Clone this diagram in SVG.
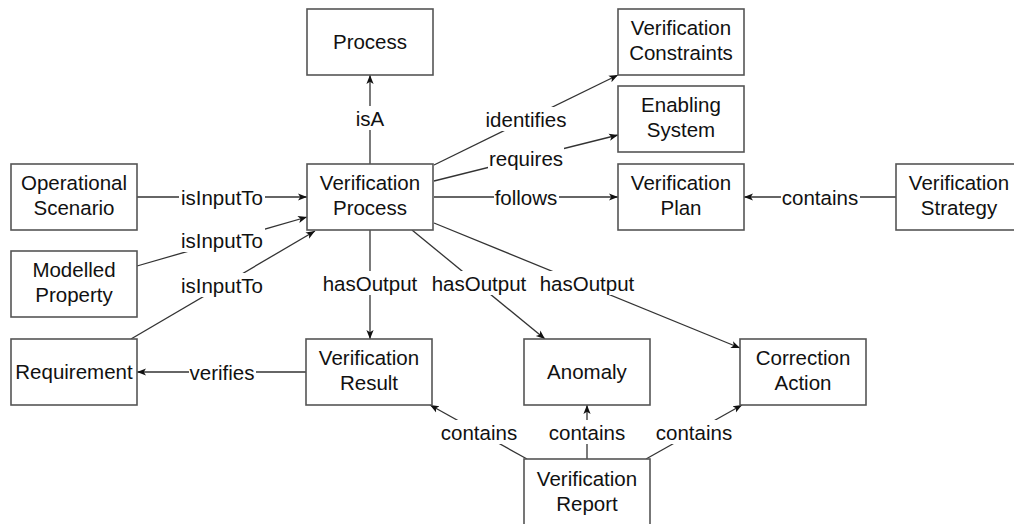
<svg xmlns="http://www.w3.org/2000/svg" width="1014" height="524" viewBox="0 0 1014 524">
<style>
.box{fill:#fff;stroke:#555;stroke-width:1.6}
.t{font-family:"Liberation Sans",Arial,sans-serif;font-size:20.5px;fill:#111;text-anchor:middle}
.e{fill:none;stroke:#333;stroke-width:1.3;marker-end:url(#ah)}
.lb{fill:#fff}
</style>
<defs>
<marker id="ah" viewBox="0 0 10 10" refX="10" refY="5" markerWidth="9" markerHeight="9" markerUnits="userSpaceOnUse" orient="auto">
<path d="M0,1 L10,5 L0,9 L2.5,5 Z" fill="#111"/>
</marker>
</defs>
<rect width="1014" height="524" fill="#fff"/>
<g id="connectors">
<line class="e" x1="370" y1="164" x2="370" y2="75"/>
<line class="e" x1="434" y1="165" x2="618" y2="75"/>
<line class="e" x1="434" y1="181" x2="618" y2="135"/>
<line class="e" x1="434" y1="197" x2="618" y2="197"/>
<line class="e" x1="896" y1="197" x2="744" y2="197"/>
<line class="e" x1="137" y1="197" x2="307" y2="197"/>
<line class="e" x1="137" y1="266" x2="307" y2="217"/>
<line class="e" x1="131" y1="339" x2="315" y2="231"/>
<line class="e" x1="370" y1="230" x2="370" y2="339"/>
<line class="e" x1="412" y1="230" x2="545" y2="339"/>
<line class="e" x1="434" y1="223" x2="740" y2="348"/>
<line class="e" x1="306" y1="372" x2="137" y2="372"/>
<line class="e" x1="527" y1="459" x2="430" y2="405"/>
<line class="e" x1="587" y1="459" x2="587" y2="405"/>
<line class="e" x1="646" y1="459" x2="742" y2="405"/>
<g id="labels">
<rect class="lb" x="354" y="106" width="32" height="24"/><text class="t" x="370" y="126">isA</text>
<rect class="lb" x="485" y="107" width="83" height="24"/><text class="t" x="526" y="127">identifies</text>
<rect class="lb" x="488" y="146" width="76" height="24"/><text class="t" x="526" y="166">requires</text>
<rect class="lb" x="494" y="185" width="65" height="24"/><text class="t" x="526" y="205">follows</text>
<rect class="lb" x="781" y="185" width="79" height="24"/><text class="t" x="820" y="205">contains</text>
<rect class="lb" x="179" y="185" width="86" height="24"/><text class="t" x="222" y="205">isInputTo</text>
<rect class="lb" x="179" y="228" width="86" height="24"/><text class="t" x="222" y="248">isInputTo</text>
<rect class="lb" x="179" y="273" width="86" height="24"/><text class="t" x="222" y="293">isInputTo</text>
<rect class="lb" x="189" y="360" width="67" height="24"/><text class="t" x="222" y="380">verifies</text>
<rect class="lb" x="322" y="271" width="96" height="24"/><text class="t" x="370" y="291">hasOutput</text>
<rect class="lb" x="431" y="271" width="96" height="24"/><text class="t" x="479" y="291">hasOutput</text>
<rect class="lb" x="539" y="271" width="96" height="24"/><text class="t" x="587" y="291">hasOutput</text>
<rect class="lb" x="440" y="420" width="79" height="24"/><text class="t" x="479" y="440">contains</text>
<rect class="lb" x="548" y="420" width="79" height="24"/><text class="t" x="587" y="440">contains</text>
<rect class="lb" x="655" y="420" width="79" height="24"/><text class="t" x="694" y="440">contains</text>
</g>
</g>
<g id="process"><rect class="box" x="307" y="9" width="126" height="66"/><text class="t" x="370" y="49">Process</text></g>
<g id="verification-constraints"><rect class="box" x="618" y="9" width="126" height="66"/><text class="t" x="681" y="35">Verification</text><text class="t" x="681" y="60">Constraints</text></g>
<g id="enabling-system"><rect class="box" x="618" y="86" width="126" height="66"/><text class="t" x="681" y="112">Enabling</text><text class="t" x="681" y="137">System</text></g>
<g id="verification-process"><rect class="box" x="307" y="164" width="126" height="66"/><text class="t" x="370" y="190">Verification</text><text class="t" x="370" y="215">Process</text></g>
<g id="verification-plan"><rect class="box" x="618" y="164" width="126" height="66"/><text class="t" x="681" y="190">Verification</text><text class="t" x="681" y="215">Plan</text></g>
<g id="verification-strategy"><rect class="box" x="896" y="164" width="126" height="66"/><text class="t" x="959" y="190">Verification</text><text class="t" x="959" y="215">Strategy</text></g>
<g id="operational-scenario"><rect class="box" x="11" y="164" width="126" height="66"/><text class="t" x="74" y="190">Operational</text><text class="t" x="74" y="215">Scenario</text></g>
<g id="modelled-property"><rect class="box" x="11" y="251" width="126" height="66"/><text class="t" x="74" y="277">Modelled</text><text class="t" x="74" y="302">Property</text></g>
<g id="requirement"><rect class="box" x="11" y="339" width="126" height="66"/><text class="t" x="74" y="379">Requirement</text></g>
<g id="verification-result"><rect class="box" x="306" y="339" width="126" height="66"/><text class="t" x="369" y="365">Verification</text><text class="t" x="369" y="390">Result</text></g>
<g id="anomaly"><rect class="box" x="524" y="339" width="126" height="66"/><text class="t" x="587" y="379">Anomaly</text></g>
<g id="correction-action"><rect class="box" x="740" y="339" width="126" height="66"/><text class="t" x="803" y="365">Correction</text><text class="t" x="803" y="390">Action</text></g>
<g id="verification-report"><rect class="box" x="524" y="459" width="126" height="66"/><text class="t" x="587" y="486">Verification</text><text class="t" x="587" y="511">Report</text></g>
</svg>
